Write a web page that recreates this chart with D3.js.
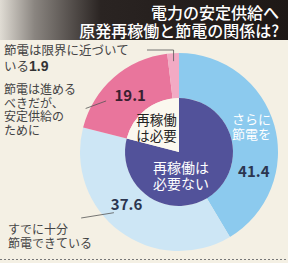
<!DOCTYPE html>
<html>
<head>
<meta charset="utf-8">
<script src="https://cdn.jsdelivr.net/npm/d3@7"></script>
<style>
  body { margin: 0; background: #f4f0e4; }
  svg { display: block; }
  text { font-family: "Noto Sans CJK JP", "Noto Sans", sans-serif; }
</style>
</head>
<body>
<div id="chart"></div>
<script>

// outer ring : 節電について
var outerLabels = ["さらに節電を", "すでに十分節電できている", "節電は進めるべきだが、安定供給のために", "節電は限界に近づいている"];
var outerValues = [41.4, 37.6, 19.1, 1.9];
var outerColors = ["#8ccaee", "#cde6f5", "#e9759c", "#f2aac4"];

// inner pie : 再稼働について
var innerLabels = ["再稼働は必要ない", "再稼働は必要"];
var innerValues = [79.0, 21.0];
var innerColors = ["#52529a", "#fbf8ef"];

var titleLines = ["電力の安定供給へ", "原発再稼働と節電の関係は?"];

var width = 288, height = 263;
var cx = 179, cy = 152;
var rOuter = 99, rInner = 54;

var svg = d3.select("#chart")
    .append("svg")
    .attr("width", width)
    .attr("height", height);

svg.append("rect")
    .attr("width", width)
    .attr("height", height)
    .attr("fill", "#f4f0e4");

// title banner
var grad = svg.append("defs").append("linearGradient")
    .attr("id", "banner")
    .attr("x1", "0%").attr("x2", "100%");
grad.append("stop").attr("offset", "0%").attr("stop-color", "#e0dcd4");
grad.append("stop").attr("offset", "12%").attr("stop-color", "#8a8580");
grad.append("stop").attr("offset", "35%").attr("stop-color", "#2a2422");
grad.append("stop").attr("offset", "100%").attr("stop-color", "#1e1816");

svg.append("rect")
    .attr("x", 0).attr("y", 0)
    .attr("width", width).attr("height", 40)
    .attr("fill", "url(#banner)");

svg.selectAll(".title")
    .data(titleLines)
    .enter()
    .append("text")
    .attr("class", "title")
    .attr("x", 279)
    .attr("y", function(d, i) { return 19 + i * 17.5; })
    .attr("text-anchor", "end")
    .attr("font-size", "16px")
    .attr("font-weight", "500")
    .attr("fill", "#ffffff")
    .text(function(d) { return d; });

var g = svg.append("g")
    .attr("transform", "translate(" + cx + "," + cy + ")");

var pie = d3.pie().sort(null).value(function(d) { return d; });

var outerArc = d3.arc().innerRadius(rInner).outerRadius(rOuter);
var innerArc = d3.arc().innerRadius(0).outerRadius(rInner);

g.selectAll(".outer")
    .data(pie(outerValues))
    .enter()
    .append("path")
    .attr("class", "outer")
    .attr("d", outerArc)
    .attr("fill", function(d, i) { return outerColors[i]; });

g.selectAll(".inner")
    .data(pie(innerValues))
    .enter()
    .append("path")
    .attr("class", "inner")
    .attr("d", innerArc)
    .attr("fill", function(d, i) { return innerColors[i]; });

// point on the circle, angle in degrees clockwise from top
function pointAt(deg, r) {
    var a = deg * Math.PI / 180;
    return [cx + r * Math.sin(a), cy - r * Math.cos(a)];
}

function multiText(lines, x, y, size, color, anchor, lh) {
    var t = svg.append("text")
        .attr("x", x).attr("y", y)
        .attr("font-size", size)
        .attr("fill", color)
        .attr("text-anchor", anchor);
    lines.forEach(function(l, i) {
        t.append("tspan")
            .attr("x", x)
            .attr("dy", i == 0 ? 0 : lh)
            .text(l);
    });
    return t;
}

function numText(x, y, v, color, size) {
    return svg.append("text").attr("x", x).attr("y", y)
        .attr("text-anchor", "middle").attr("font-size", size)
        .attr("fill", color).attr("font-weight", "bold")
        .attr("font-family", "'Liberation Sans', Arial, sans-serif")
        .text(v.toFixed(1));
}

var outerPie = pie(outerValues);
function mid(d) { return (d.startAngle + d.endAngle) / 2 * 180 / Math.PI; }

// 41.4
var p = pointAt(mid(outerPie[0]) + 1, 75);
multiText(["さらに", "節電を"], p[0], p[1] - 9, "13px", "#ffffff", "middle", 14.5);
p = pointAt(mid(outerPie[0]) + 29, 78);
numText(p[0] - 1, p[1] + 7, outerValues[0], "#2b3550", "15px");

// 37.6
p = pointAt(mid(outerPie[1]) + 9, 76);
numText(p[0] + 2, p[1] + 5, outerValues[1], "#2b3550", "15px");
var a = pointAt(227, 89), b = pointAt(236, 118);
svg.append("line")
    .attr("x1", a[0]).attr("y1", a[1]).attr("x2", b[0]).attr("y2", b[1])
    .attr("stroke", "#555").attr("stroke-width", 0.8);
multiText(["すでに十分", "節電できている"], 8, 234, "12px", "#444", "start", 14);

// 19.1
p = pointAt(mid(outerPie[2]), 74);
numText(p[0], p[1] + 5, outerValues[2], "#3a2030", "15px");
a = pointAt(305, 89); b = pointAt(295, 103);
svg.append("line")
    .attr("x1", a[0]).attr("y1", a[1]).attr("x2", b[0]).attr("y2", b[1])
    .attr("stroke", "#555").attr("stroke-width", 0.8);
multiText(["節電は進める", "べきだが、", "安定供給の", "ために"], 4, 94, "12px", "#444", "start", 13.5);

// 1.9
p = pointAt(mid(outerPie[3]), 91);
svg.append("polyline")
    .attr("points", [[p[0], p[1]], [p[0], 50], [147, 50]].map(function(q) { return q.join(","); }).join(" "))
    .attr("fill", "none")
    .attr("stroke", "#555").attr("stroke-width", 0.8);
svg.append("text").attr("x", 4).attr("y", 55)
    .attr("font-size", "12.5px").attr("fill", "#444")
    .text("節電は限界に近づいて");
var t = svg.append("text").attr("x", 4).attr("y", 71)
    .attr("font-size", "12.5px").attr("fill", "#444");
t.append("tspan").text("いる");
t.append("tspan")
    .attr("font-size", "14px").attr("font-weight", "bold")
    .attr("font-family", "'Liberation Sans', Arial, sans-serif")
    .attr("fill", "#333")
    .text(outerValues[3].toFixed(1));

// inner labels
var innerPie = pie(innerValues);
p = pointAt(mid(innerPie[1]) - 2, 32);
multiText(["再稼働", "は必要"], p[0] - 2, p[1] - 2, "13.5px", "#222", "middle", 16);
p = pointAt(175, 22);
multiText(["再稼働は", "必要ない"], p[0], p[1] - 1, "14px", "#ffffff", "middle", 16);

// dashed rule
svg.append("line")
    .attr("x1", 0).attr("x2", width)
    .attr("y1", 259.5).attr("y2", 259.5)
    .attr("stroke", "#777").attr("stroke-width", 1)
    .attr("stroke-dasharray", "2,2");

</script>
</body>
</html>
